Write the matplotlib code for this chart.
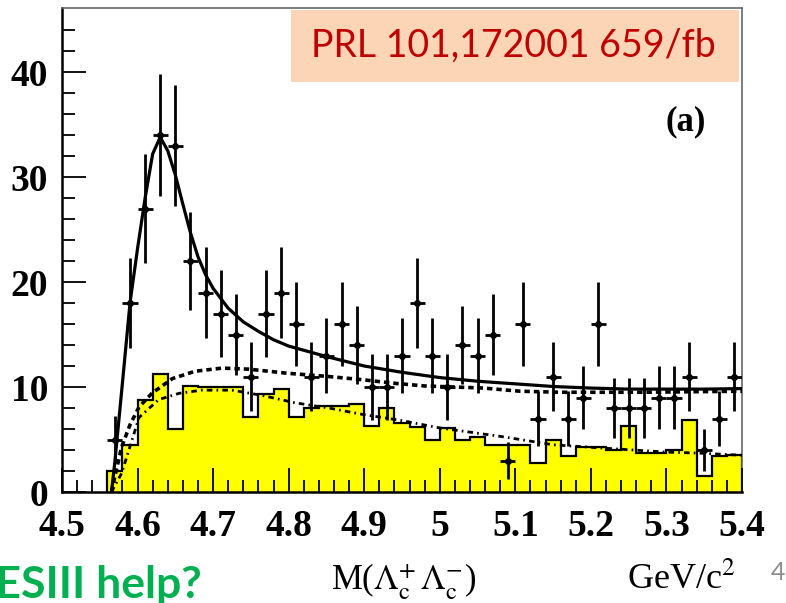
import numpy as np
import matplotlib
matplotlib.use("Agg")
import matplotlib.pyplot as plt

# Lambda_c+ Lambda_c- invariant mass, 20 MeV bins from 4.56 to 5.40 GeV/c^2
edges = np.round(np.linspace(4.56, 5.40, 43), 2)
centers = np.round((edges[:-1] + edges[1:]) / 2, 3)

# signal-region data (events / bin)
data_counts = [5, 18, 27, 34, 33, 22, 19, 17, 15, 11, 17, 19, 16, 11,
               13, 16, 14, 10, 10, 13, 18, 13, 10, 14, 13, 15, 3, 16,
               7, 11, 7, 9, 16, 8, 8, 8, 9, 9, 11, 4, 7, 11]

# scaled sideband histogram (yellow)
sideband = [2.0, 4.5, 8.8, 11.2, 6.0, 10.1, 10.0, 10.0, 10.0, 7.1, 9.3, 9.8,
            7.1, 8.0, 8.2, 8.2, 8.4, 6.3, 8.0, 6.6, 6.2, 5.0, 6.1, 5.0,
            5.2, 4.5, 4.5, 4.5, 2.8, 5.0, 3.4, 4.25, 4.25, 4.0, 6.3, 3.7,
            3.7, 4.0, 6.9, 1.5, 3.4, 3.5]

# total fit (solid)
fit_m = [4.5655, 4.57, 4.58, 4.59, 4.60, 4.61, 4.62, 4.63, 4.64, 4.65, 4.66,
         4.67, 4.68, 4.69, 4.70, 4.72, 4.74, 4.76, 4.78, 4.80, 4.85, 4.90,
         4.95, 5.00, 5.05, 5.10, 5.15, 5.20, 5.25, 5.30, 5.35, 5.40]
fit_y = [0.0, 2.9, 10.4, 18.0, 23.2, 28.0, 32.2, 33.8, 32.5, 30.2, 27.4,
         24.7, 22.4, 20.7, 19.4, 17.5, 16.2, 15.3, 14.5, 13.9, 12.9, 12.0,
         11.4, 10.9, 10.55, 10.3, 10.05, 9.9, 9.8, 9.8, 9.8, 9.85]

# background-only component (dashed)
bkg_m = [4.5655, 4.57, 4.579, 4.59, 4.602, 4.619, 4.646, 4.676, 4.712, 4.747,
         4.80, 4.853, 4.897, 4.941, 4.98, 5.058, 5.106, 5.159, 5.27, 5.40]
bkg_y = [0.0, 1.5, 4.3, 6.4, 8.1, 9.4, 10.8, 11.5, 11.8, 11.7,
         11.3, 11.0, 10.7, 10.35, 10.1, 9.9, 9.6, 9.5, 9.5, 9.6]

# sideband parametrisation (dash-dot)
sb_m = [4.5655, 4.579, 4.602, 4.628, 4.655, 4.685, 4.725, 4.765, 4.808,
        4.853, 4.897, 4.95, 5.00, 5.08, 5.15, 5.212, 5.30, 5.344, 5.40]
sb_y = [0.0, 1.8, 7.1, 8.8, 9.4, 9.7, 9.7, 9.2, 8.5,
        8.0, 7.4, 6.8, 6.1, 5.3, 4.5, 4.2, 3.8, 3.7, 3.5]

plt.rcParams["mathtext.fontset"] = "stix"

W, H = 786, 603
fig = plt.figure(figsize=(W / 100, H / 100), dpi=100)
ax = fig.add_axes([62 / W, 1 - 492 / H, 680 / W, 484 / H])

ax.stairs(sideband, edges, fill=True, color="#ffff00", zorder=1)
ax.stairs(sideband, edges, color="black", lw=1.6, zorder=1.2)

ax.plot(sb_m, sb_y, color="black", lw=2.0, ls=(0, (2.0, 1.5, 0.6, 1.5)), zorder=3)
ax.plot(bkg_m, bkg_y, color="black", lw=2.6, ls=(0, (1.5, 1.1)), zorder=3)
ax.plot(fit_m, fit_y, color="black", lw=2.3, zorder=3)

ax.errorbar(centers, data_counts, yerr=np.sqrt(data_counts), xerr=0.01,
            fmt="o", ms=4, color="black", elinewidth=2.0, capsize=0, zorder=4)

ax.set_xlim(4.5, 5.4)
ax.set_ylim(0, 46.1)
ax.set_xticks(np.round(np.arange(4.5, 5.41, 0.1), 1))
ax.set_xticklabels(["4.5", "4.6", "4.7", "4.8", "4.9", "5", "5.1", "5.2", "5.3", "5.4"])
ax.set_xticks(np.round(np.arange(4.5, 5.401, 0.02), 2), minor=True)
ax.set_yticks([0, 10, 20, 30, 40])
ax.set_yticks(np.arange(0, 46, 2), minor=True)
ax.tick_params(which="both", direction="in", color="black", width=1.3)
ax.tick_params(which="major", length=17)
ax.tick_params(which="minor", length=9)
ax.tick_params(axis="x", which="major", pad=12)
ax.tick_params(axis="y", which="major", pad=10)
ax.set_axisbelow(False)
for lab in ax.get_xticklabels() + ax.get_yticklabels():
    lab.set_fontfamily("Liberation Serif")
    lab.set_fontweight("bold")
    lab.set_fontsize(27)

for side in ("left", "bottom"):
    ax.spines[side].set_linewidth(1.8)
    ax.spines[side].set_color("black")
for side in ("top", "right"):
    ax.spines[side].set_linewidth(1.2)
    ax.spines[side].set_color("#666666")

# reference box
fig.patches.append(plt.Rectangle((291 / W, 1 - 82 / H), 448 / W, 72 / H,
                                 transform=fig.transFigure, facecolor="#fbd5b5",
                                 edgecolor="none", zorder=5))
fig.text(513 / W, 1 - 46 / H, "PRL 101,172001 659/fb", color="#c00000",
         fontsize=27, family="Lato", ha="center", va="center", zorder=6)

fig.text(686 / W, 1 - 122 / H, "(a)", fontsize=25, family="Liberation Serif",
         weight="bold", ha="center", va="center")

fig.text(404 / W, 1 - 582 / H, r"M($\Lambda_{\rm c}^{+}\,\Lambda_{\rm c}^{-}$)",
         fontsize=25, family="Liberation Serif", ha="center", va="center")
fig.text(681 / W, 1 - 580 / H, r"GeV/c$^2$", fontsize=26,
         family="Liberation Serif", ha="center", va="center")
fig.text(778 / W, 1 - 572 / H, "4", fontsize=18, color="#8c8c8c",
         family="Lato", ha="center", va="center")
fig.text(-34 / W, 1 - 598 / H, "BESIII help?", fontsize=32, color="#00b050",
         family="Lato", weight="bold", ha="left", va="baseline")

fig.savefig("out.png", dpi=100)
